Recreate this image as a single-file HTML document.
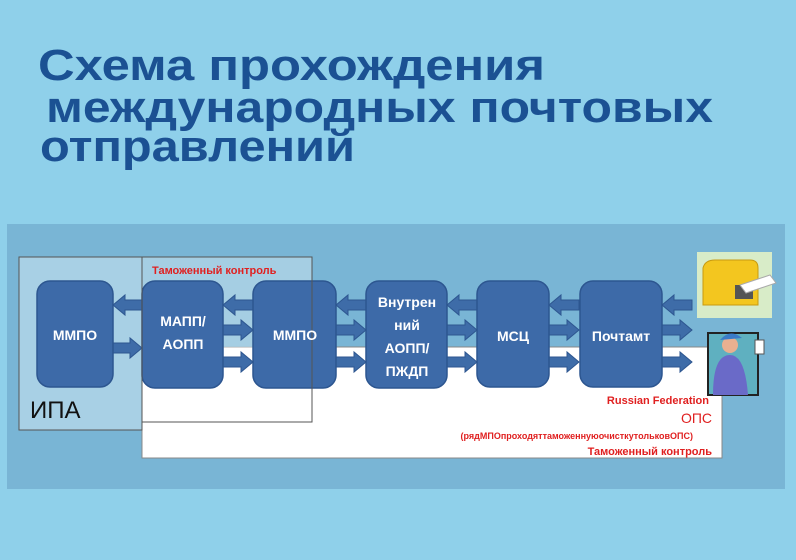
<!DOCTYPE html>
<html><head><meta charset="utf-8"><style>
html,body{margin:0;padding:0;background:#8fd0ea;}
svg{display:block;font-family:"Liberation Sans","DejaVu Sans",sans-serif;}
</style></head><body>
<svg width="796" height="560" viewBox="0 0 796 560" xmlns="http://www.w3.org/2000/svg">
<rect width="796" height="560" fill="#8fd0ea"/>
<g fill="#1b5193" font-weight="bold" font-size="44">
<text x="38" y="80" textLength="507" lengthAdjust="spacingAndGlyphs">Схема прохождения</text>
<text x="46" y="122" textLength="667" lengthAdjust="spacingAndGlyphs">международных почтовых</text>
<text x="40" y="161" textLength="315" lengthAdjust="spacingAndGlyphs">отправлений</text>
</g>
<rect x="7" y="224" width="778" height="265" fill="#79b5d5"/>
<rect x="142" y="347" width="580" height="111" fill="#fff" stroke="#888" stroke-width="1"/>
<rect x="19" y="257" width="123" height="173" fill="#a8d0e5" stroke="#555" stroke-width="1"/>
<rect x="142" y="257" width="170" height="165" fill="#ffffff" fill-opacity="0.3" stroke="#555" stroke-width="1"/>
<rect x="142" y="257" width="170" height="90" fill="#a8d0e5" fill-opacity="0.6"/>
<text x="152" y="274" fill="#e02020" font-size="11" font-weight="bold">Таможенный контроль</text>
<text x="30" y="418" fill="#111" font-size="24">ИПА</text>
<g fill="#3e6ca8" stroke="#2d5690" stroke-width="1">
<path d="M113,305 l12,-10 v5 h17 v10 h-17 v5 z"/>
<path d="M113,343 h17 v-5 l12,10 l-12,10 v-5 h-17 z"/>
</g>
<g fill="#3e6ca8" stroke="#2d5690" stroke-width="1" id="a">
<path d="M223,305 l12,-10 v5 h18 v10 h-18 v5 z"/>
<path d="M223,325 h18 v-5 l12,10 l-12,10 v-5 h-18 z"/>
<path d="M223,357 h18 v-5 l12,10 l-12,10 v-5 h-18 z"/>
</g>
<use href="#a" x="113"/>
<use href="#a" x="224"/>
<use href="#a" x="326"/>
<use href="#a" x="439"/>
<g fill="#3d6aa8" stroke="#2d5690" stroke-width="1.5">
<rect x="37" y="281" width="76" height="106" rx="13"/>
<rect x="142" y="281" width="81" height="107" rx="13"/>
<rect x="253" y="281" width="83" height="107" rx="13"/>
<rect x="366" y="281" width="81" height="107" rx="13"/>
<rect x="477" y="281" width="72" height="106" rx="13"/>
<rect x="580" y="281" width="82" height="106" rx="13"/>
</g>
<rect x="142" y="257" width="170" height="165" fill="none" stroke="#555" stroke-width="1"/>
<g fill="#fff" font-weight="bold" font-size="14" text-anchor="middle">
<text x="75" y="340">ММПО</text>
<text x="183" y="326">МАПП/</text>
<text x="183" y="349">АОПП</text>
<text x="295" y="340">ММПО</text>
<text x="407" y="307">Внутрен</text>
<text x="407" y="330">ний</text>
<text x="407" y="353">АОПП/</text>
<text x="407" y="376">ПЖДП</text>
<text x="513" y="341">МСЦ</text>
<text x="621" y="341">Почтамт</text>
</g>
<g text-anchor="end" fill="#e02020">
<text x="709" y="404" font-size="11" font-weight="bold">Russian Federation</text>
<text x="712" y="423" font-size="14">ОПС</text>
<text x="693" y="439" font-size="9" font-weight="bold">(рядМПОпроходяттаможеннуюочисткутольковОПС)</text>
<text x="712" y="455" font-size="11" font-weight="bold">Таможенный контроль</text>
</g>
<rect x="697" y="252" width="75" height="66" fill="#d8ecc8"/>
<path d="M703,268 q2,-8 12,-8 h35 q8,0 8,8 v37 h-55 z" fill="#f3c61f" stroke="#c89a10"/>
<rect x="735" y="285" width="18" height="14" fill="#555"/>
<path d="M740,285 l30,-10 l6,8 l-30,10 z" fill="#fff" stroke="#aaa"/>
<rect x="708" y="333" width="50" height="62" fill="#5fb0c0" stroke="#222" stroke-width="2"/>
<circle cx="730" cy="345" r="8" fill="#e8b090"/>
<path d="M720,340 q10,-12 22,-2 z" fill="#3a7bc8"/>
<path d="M713,395 q0,-40 17,-40 q15,0 18,40 z" fill="#6a6ac8"/>
<rect x="755" y="340" width="9" height="14" fill="#fff" stroke="#555"/>
</svg>
</body></html>
